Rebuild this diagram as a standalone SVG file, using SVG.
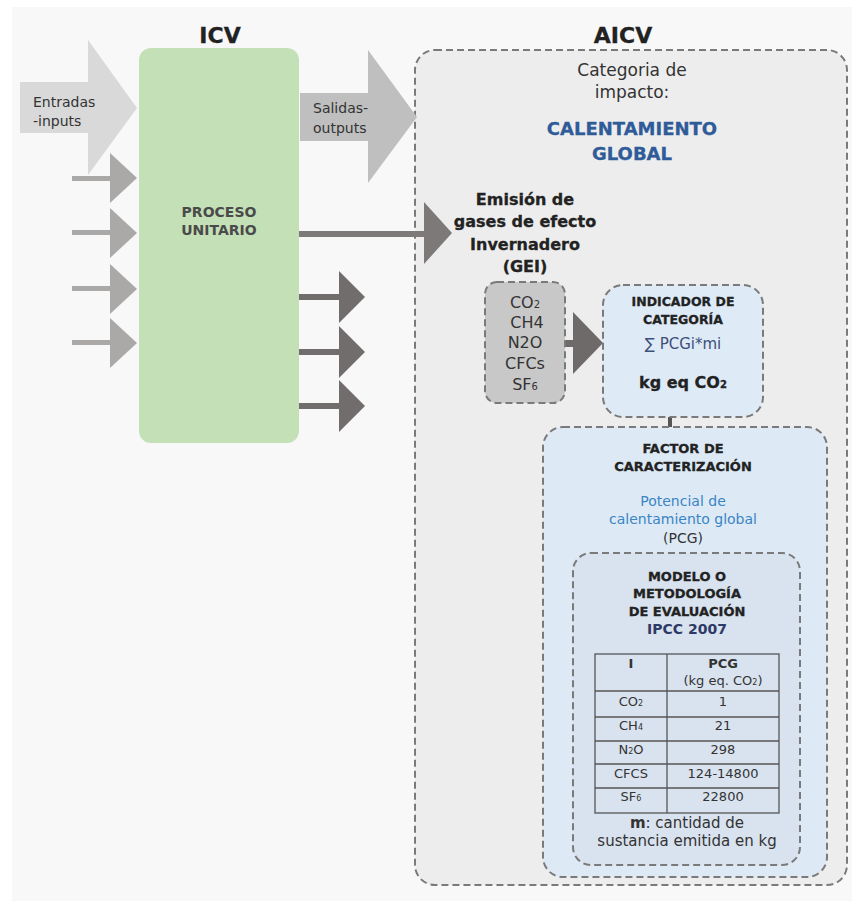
<svg xmlns="http://www.w3.org/2000/svg" width="852" height="902" viewBox="0 0 852 902">
<style>
text{font-family:"DejaVu Sans","Liberation Sans",Arial,sans-serif;fill:#333;text-anchor:middle}
.b{font-weight:bold}
.h{font-weight:bold;fill:#222;stroke:#222;stroke-width:0.3}
.dash{stroke:#7a7a7a;stroke-width:2;stroke-dasharray:7 4}
.cell{fill:none;stroke:#555;stroke-width:1.3}
.t{font-size:13px}
</style>
<rect x="0" y="0" width="852" height="902" fill="#ffffff"/>
<rect x="12" y="7" width="840" height="894" fill="#f8f8f8"/>

<text x="220" y="43" class="h" style="font-size:22px">ICV</text>
<text x="623" y="43" class="h" style="font-size:22px">AICV</text>

<g id="aicv">
  <rect x="415" y="50" width="432" height="835" rx="20" fill="#ededed" class="dash"/>
  <text x="632" y="76" style="font-size:17px">Categoria de</text>
  <text x="632" y="98" style="font-size:17px">impacto:</text>
  <text x="632" y="135" class="h" style="font-size:18px;fill:#2f5b99;stroke:#2f5b99">CALENTAMIENTO</text>
  <text x="632" y="160" class="h" style="font-size:18px;fill:#2f5b99;stroke:#2f5b99">GLOBAL</text>
</g>

<g id="connectors">
  <!-- big inputs arrow -->
  <polygon points="20,82 88,82 88,40 137,108 88,175 88,133 20,133" fill="#d9d9d9"/>
  <!-- small input arrows -->
  <g fill="#aba8a8" stroke="none">
    <rect x="72" y="176" width="40" height="5"/><polygon points="110,153 137,178 110,203"/>
    <rect x="72" y="230" width="40" height="5"/><polygon points="110,208 137,233 110,258"/>
    <rect x="72" y="286" width="40" height="5"/><polygon points="110,264 137,289 110,314"/>
    <rect x="72" y="340" width="40" height="5"/><polygon points="110,318 137,343 110,368"/>
  </g>
  <!-- salidas arrow -->
  <polygon points="300,93 368,93 368,50 417,117 368,183 368,141 300,141" fill="#bfbfbf"/>
  <!-- main emission arrow -->
  <rect x="299" y="231" width="128" height="6" fill="#7d7979"/>
  <polygon points="424,202 452,233 424,264" fill="#7d7979"/>
  <!-- small output arrows -->
  <g fill="#716d6d">
    <rect x="299" y="294" width="42" height="6"/><polygon points="339,271 365,297 339,323"/>
    <rect x="299" y="349" width="42" height="6"/><polygon points="339,326 365,352 339,378"/>
    <rect x="299" y="403" width="42" height="6"/><polygon points="339,380 365,406 339,432"/>
  </g>
  <!-- GEI to indicator -->
  <rect x="565" y="340" width="10" height="7" fill="#6e6a6a"/>
  <polygon points="573,312 603,343 573,374" fill="#6e6a6a"/>
  <!-- indicator to factor -->
  <rect x="668" y="417" width="4" height="11" fill="#555"/>
</g>

<g id="icv-process">
  <rect x="139" y="48" width="160" height="395" rx="12" fill="#c4e0b7"/>
  <text x="219" y="217" class="b" style="font-size:14px;fill:#4a4a4a">PROCESO</text>
  <text x="219" y="235" class="b" style="font-size:14px;fill:#4a4a4a">UNITARIO</text>
</g>

<g id="inputs-label">
  <text x="33" y="107" style="font-size:14px;text-anchor:start">Entradas</text>
  <text x="33" y="126" style="font-size:14px;text-anchor:start">-inputs</text>
</g>
<g id="outputs-label">
  <text x="313" y="113" style="font-size:14px;text-anchor:start">Salidas-</text>
  <text x="313" y="133" style="font-size:14px;text-anchor:start">outputs</text>
</g>

<g id="emision">
  <text x="525" y="205" class="h" style="font-size:16px">Emisión de</text>
  <text x="525" y="227" class="h" style="font-size:16px">gases de efecto</text>
  <text x="525" y="250" class="h" style="font-size:16px">Invernadero</text>
  <text x="525" y="272" class="h" style="font-size:16px">(GEI)</text>
</g>

<g id="gei">
  <rect x="485" y="282" width="80" height="121" rx="12" fill="#c8c8c8" class="dash"/>
  <text x="525" y="308" style="font-size:16px">CO<tspan font-size="10">2</tspan></text>
  <text x="527" y="328" style="font-size:16px">CH4</text>
  <text x="525" y="348" style="font-size:16px">N2O</text>
  <text x="525" y="369" style="font-size:16px">CFCs</text>
  <text x="525" y="390" style="font-size:16px">SF<tspan font-size="10">6</tspan></text>
</g>

<g id="indicador">
  <rect x="603" y="285" width="160" height="132" rx="20" fill="#deebf7" class="dash"/>
  <text x="683" y="306" class="h" style="font-size:12.5px">INDICADOR DE</text>
  <text x="683" y="324" class="h" style="font-size:12.5px">CATEGORÍA</text>
  <text x="683" y="349" style="font-size:15px;fill:#3d4f7a">∑ PCGi*mi</text>
  <text x="683" y="388" class="h" style="font-size:16px">kg eq CO<tspan font-size="10">2</tspan></text>
</g>

<g id="factor">
  <rect x="543" y="427" width="284" height="450" rx="20" fill="#ddeaf6" class="dash"/>
  <text x="683" y="453" class="h" style="font-size:13px">FACTOR DE</text>
  <text x="683" y="471" class="h" style="font-size:13px">CARACTERIZACIÓN</text>
  <text x="683" y="506" style="font-size:14px;fill:#3a85c4">Potencial de</text>
  <text x="683" y="524" style="font-size:14px;fill:#3a85c4">calentamiento global</text>
  <text x="683" y="543" style="font-size:14px;fill:#333">(PCG)</text>
</g>

<g id="modelo">
  <rect x="573" y="553" width="227" height="312" rx="18" fill="#d9e2ef" class="dash"/>
  <text x="687" y="581" class="h" style="font-size:13px">MODELO O</text>
  <text x="687" y="598" class="h" style="font-size:13px">METODOLOGÍA</text>
  <text x="687" y="616" class="h" style="font-size:13px">DE EVALUACIÓN</text>
  <text x="687" y="634" class="b" style="font-size:14px;fill:#2d3a66">IPCC 2007</text>
</g>

<g id="tabla">
  <rect x="595" y="654" width="184" height="159" class="cell"/>
  <line x1="667" y1="654" x2="667" y2="813" class="cell"/>
  <line x1="595" y1="691" x2="779" y2="691" class="cell"/>
  <line x1="595" y1="717" x2="779" y2="717" class="cell"/>
  <line x1="595" y1="741" x2="779" y2="741" class="cell"/>
  <line x1="595" y1="764" x2="779" y2="764" class="cell"/>
  <line x1="595" y1="788" x2="779" y2="788" class="cell"/>
  <text x="631" y="668" class="t b">I</text>
  <text x="723" y="668" class="t b">PCG</text>
  <text x="723" y="685" class="t">(kg eq. CO<tspan font-size="8">2</tspan>)</text>
  <text x="631" y="706" class="t">CO<tspan font-size="8">2</tspan></text>
  <text x="723" y="706" class="t">1</text>
  <text x="631" y="730" class="t">CH<tspan font-size="8">4</tspan></text>
  <text x="723" y="730" class="t">21</text>
  <text x="631" y="754" class="t">N<tspan font-size="8">2</tspan>O</text>
  <text x="723" y="754" class="t">298</text>
  <text x="631" y="778" class="t">CFCS</text>
  <text x="723" y="778" class="t">124-14800</text>
  <text x="631" y="801" class="t">SF<tspan font-size="8">6</tspan></text>
  <text x="723" y="801" class="t">22800</text>
  <text x="687" y="828" style="font-size:15px"><tspan font-weight="bold">m</tspan>: cantidad de</text>
  <text x="687" y="846" style="font-size:15px">sustancia emitida en kg</text>
</g>
</svg>
